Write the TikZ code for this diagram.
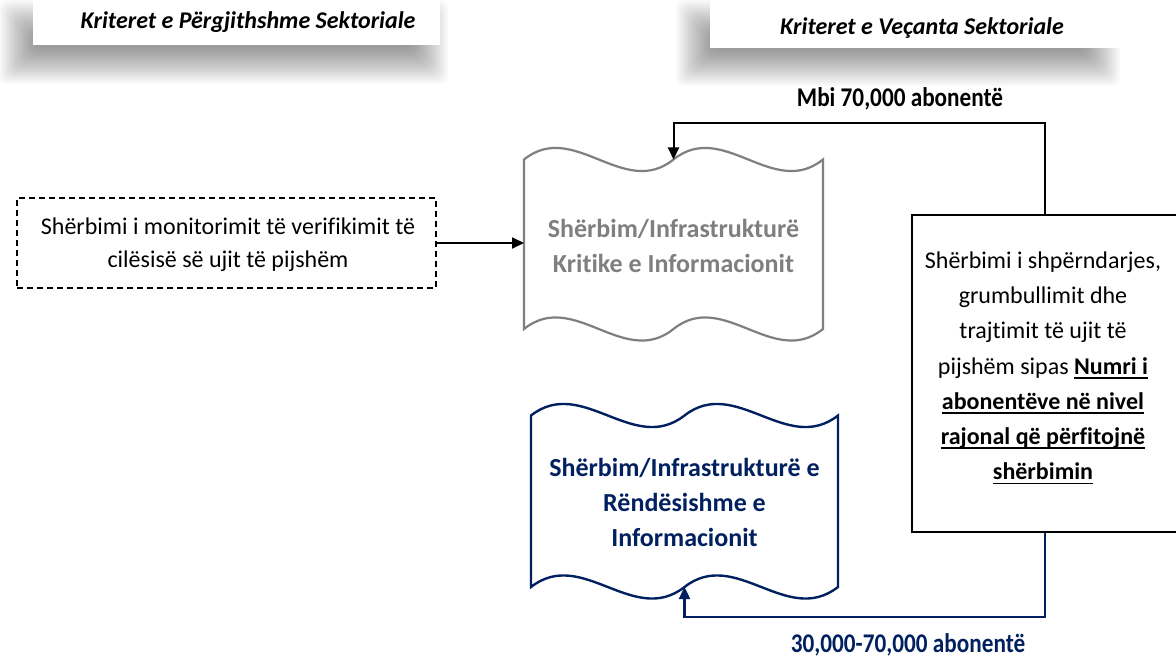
\documentclass[tikz,border=0pt]{standalone}
\usepackage{fontspec}
\usepackage{graphicx}
\setmainfont{Carlito}[Ligatures=NoCommon]
\usetikzlibrary{arrows.meta}
\definecolor{critgray}{HTML}{7F7F7F}
\definecolor{navy}{HTML}{002060}
\newsavebox\ulbox
\newcommand\ulx[1]{\sbox\ulbox{#1}\makebox[0pt][l]{\rule[-4.5pt]{\wd\ulbox}{1.5pt}}\usebox\ulbox}
\tikzset{
  conn/.style={line width=2pt,-{Triangle[length=12pt,width=11pt]}},
  hdr/.style={font=\fontsize{24}{28}\selectfont\bfseries\itshape,inner sep=0pt},
  lbl/.style={font=\fontsize{27}{30}\selectfont\bfseries,inner sep=0pt},
  bodytext/.style={font=\fontsize{24}{33}\selectfont,align=center,inner sep=0pt},
  wavetext/.style={font=\fontsize{26}{35}\selectfont\bfseries,align=center,inner sep=0pt},
  shadowlayer/.style={black,opacity=0.022,rounded corners=8pt}
}
\begin{document}
\begin{tikzpicture}[x=1pt,y=-1pt]
\useasboundingbox (0,0) rectangle (1176,658);
\fill[white] (0,0) rectangle (1176,658);
% header shadows
\foreach \i in {-18,-16,...,18}{
  \fill[shadowlayer] ({17+\i},{18+\i}) rectangle ({430-\i},{66-\i});
  \fill[shadowlayer] ({694+\i},{18+\i}) rectangle ({1102-\i},{68-\i});
}
\fill[white] (33,-2) rectangle (440,45);
\fill[white] (710,-2) rectangle (1137,48);
\node[hdr] (hl) at (248,22) {Kriteret e Përgjithshme Sektoriale};
\node[hdr] (hr) at (922,28) {Kriteret e Veçanta Sektoriale};

% critical wave shape
\draw[critgray,line width=2.2pt,fill=white]
  (524,159.5) .. controls (573.8,119.5) and (623.7,199.5) .. (673.5,159.5)
  .. controls (723.3,119.5) and (773.2,199.5) .. (823,159.5)
  -- (823,329) .. controls (773.2,369) and (723.3,289) .. (673.5,329)
  .. controls (623.7,369) and (573.8,289) .. (524,329) -- cycle;
\coordinate (critTop) at (673.5,159.5);
\coordinate (critLeft) at (524,243);
\node[wavetext,text=critgray] (crit) at (673.5,246) {Shërbim/Infrastrukturë\\Kritike e Informacionit};

% important wave shape
\draw[navy,line width=2.4pt,fill=white]
  (531,415.5) .. controls (582.2,375.5) and (633.3,455.5) .. (684.5,415.5)
  .. controls (735.7,375.5) and (786.8,455.5) .. (838,415.5)
  -- (838,587) .. controls (786.8,627) and (735.7,547) .. (684.5,587)
  .. controls (633.3,627) and (582.2,547) .. (531,587) -- cycle;
\coordinate (impBot) at (684.5,587);
\node[wavetext,text=navy] (imp) at (684.5,502) {Shërbim/Infrastrukturë e\\Rëndësishme e\\Informacionit};

% dashed box
\node[draw,line width=2pt,dash pattern=on 6pt off 4pt,minimum width=419pt,minimum height=90pt,inner sep=0pt] (mon) at (226.5,243) {};
\node[bodytext] (montext) at (228,245) {Shërbimi i monitorimit të verifikimit të\\cilësisë së ujit të pijshëm};

% right box
\node[draw,line width=1.5pt,minimum width=266pt,minimum height=317pt,inner sep=0pt] (rb) at (1045,373.5) {};
\node[bodytext,font=\fontsize{24}{35.2}\selectfont] (rbtext) at (1043,368) {Shërbimi i shpërndarjes,\\grumbullimit dhe\\trajtimit të ujit të\\pijshëm sipas \ulx{\textbf{Numri i}}\\\ulx{\textbf{abonentëve në nivel}}\\\ulx{\textbf{rajonal që përfitojnë}}\\\ulx{\textbf{shërbimin}}};

% connectors
\coordinate (topBend) at (673.5,123);
\coordinate (botBend) at (684.5,617);
\draw[conn] (mon.east) -- (critLeft);
\draw[conn,line join=miter] (rb.north) |- (topBend) -- (critTop);
\draw[conn,navy,line width=2.4pt,line join=miter] (rb.south) |- (botBend) -- (impBot);

% labels
\node[lbl] (l70) at (900,99) {\scalebox{0.86}[1]{Mbi 70,000 abonentë}};
\node[lbl,text=navy] (l30) at (908,645) {\scalebox{0.86}[1]{30,000-70,000 abonentë}};
\end{tikzpicture}
\end{document}
